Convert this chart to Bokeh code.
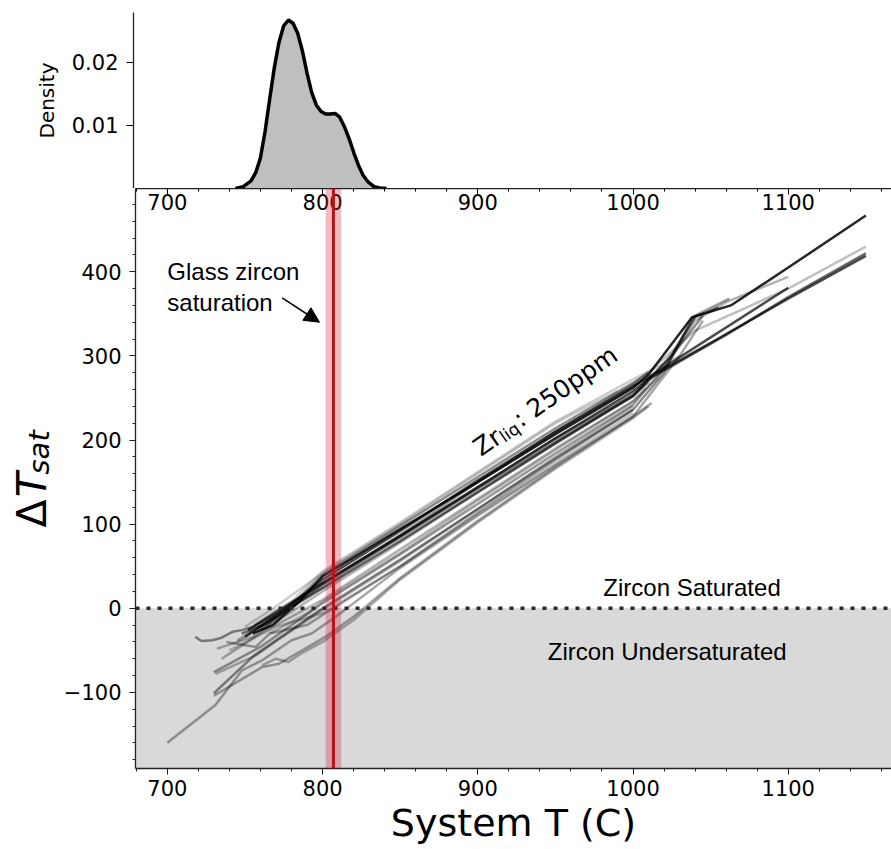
from bokeh.plotting import figure
from bokeh.layouts import column, row
from bokeh.models import (ColumnDataSource, Range1d, Span, BoxAnnotation, Label, Arrow,
                          NormalHead, SingleIntervalTicker, FixedTicker, LinearAxis)
from bokeh.embed import file_html
from bokeh.resources import INLINE

# ---------------- data ----------------
dens_T = [745, 750, 755, 758, 761, 764, 767, 770, 773, 776, 779, 782, 785, 788, 791, 794, 797,
          800, 803, 806, 809, 812, 815, 818, 821, 824, 827, 830, 834, 838, 842]
dens_val = [0.0000, 0.0003, 0.0012, 0.0025, 0.0048, 0.0090, 0.0142, 0.0192, 0.0232, 0.0258,
            0.0267, 0.0262, 0.0246, 0.0218, 0.0183, 0.0152, 0.0132, 0.0122, 0.0118, 0.0118,
            0.0119, 0.0113, 0.0098, 0.0079, 0.0057, 0.0037, 0.0021, 0.0011, 0.0003, 0.0001, 0.0000]

runs_T = [
    [755, 768, 785, 800, 850, 900, 950, 1000, 1010, 1038, 1063, 1100, 1150],
    [752, 772, 800, 850, 900, 950, 1000, 1012, 1060, 1100, 1150],
    [758, 780, 800, 850, 900, 950, 1000, 1010, 1060, 1100, 1150],
    [745, 770, 800, 850, 900, 950, 1000, 1012, 1040, 1100, 1150],
    [750, 772, 800, 850, 900, 950, 1000, 1012, 1050, 1100],
    [735, 760, 800, 850, 900, 950, 1000, 1015, 1040, 1060, 1100],
    [730, 756, 800, 850, 900, 950, 1000, 1020, 1038, 1055],
    [730, 760, 800, 850, 900, 950, 1000, 1022, 1040, 1062],
    [718, 722, 729, 735, 742, 748, 755, 770, 800, 850, 900, 950, 1000, 1025, 1045],
    [700, 731, 748, 761, 780, 793, 810, 850, 900, 950, 1000, 1030, 1045],
    [740, 770, 800, 850, 900, 950, 1000],
    [745, 775, 800, 850, 900, 950, 1000, 1005],
    [730, 761, 772, 801, 820, 850, 900, 950, 1000, 1012],
    [761, 770, 778, 786, 800, 820, 850, 900, 950, 1000, 1010],
    [732, 742, 755, 770, 800, 850, 900, 950, 1000, 1010],
    [760, 775, 800, 850, 900, 950, 1000, 1010],
    [750, 770, 800, 850, 900, 950, 990],
    [738, 757, 766, 790, 800, 850, 900, 950, 1000],
    [731, 745, 757, 771, 800, 850, 900, 950, 1000],
    [766, 790, 800, 850, 900, 950, 1000, 1008],
    [748, 765, 800, 850, 900, 950, 1000, 1010, 1025, 1040],
    [756, 780, 800, 850, 900, 950, 1000, 1030],
]
runs_dT = [
    [-30, -20, 8, 38, 94, 150, 207, 262, 278, 346, 360, 405, 467],
    [-26, -4, 30, 86, 144, 202, 258, 276, 326, 368, 419],
    [-24, 2, 24, 80, 138, 196, 252, 272, 325, 370, 422],
    [-38, -10, 28, 88, 150, 210, 266, 284, 330, 380, 430],
    [-34, -6, 34, 92, 152, 210, 264, 277, 322, 381],
    [-60, -30, 10, 70, 130, 190, 246, 272, 342, 364, 394],
    [-101, -56, 0, 58, 118, 178, 236, 280, 345, 358],
    [-76, -46, 6, 64, 124, 184, 242, 290, 348, 368],
    [-34, -39, -38, -35, -28, -26, -22, -4, 30, 86, 144, 202, 254, 300, 348],
    [-160, -115, -74, -62, -38, -30, -8, 48, 110, 170, 228, 300, 342],
    [-50, -22, -6, 50, 112, 172, 232],
    [-40, -6, 24, 86, 150, 210, 266, 272],
    [-104, -70, -66, -35, -10, 36, 104, 168, 228, 244],
    [-68, -60, -64, -54, -40, -14, 34, 102, 166, 226, 240],
    [-48, -42, -34, -16, 20, 78, 138, 196, 254, 268],
    [-26, -6, 40, 98, 156, 214, 268, 280],
    [-22, 2, 42, 100, 160, 220, 258],
    [-40, -46, -30, -20, -8, 50, 114, 176, 236],
    [-78, -66, -56, -38, -2, 56, 118, 180, 240],
    [-30, -6, 8, 66, 128, 188, 246, 262],
    [-30, -18, 28, 84, 142, 198, 252, 270, 302, 346],
    [-20, 8, 44, 102, 162, 222, 272, 300],
]
runs_alpha = [0.85, 0.7, 0.6, 0.25, 0.7, 0.3, 0.45, 0.4, 0.45, 0.35, 0.25,
              0.2, 0.35, 0.3, 0.3, 0.45, 0.2, 0.35, 0.3, 0.25, 0.5, 0.2]

glass_T = 807
glass_T_err = 5

TICK_FONT = "DejaVu Sans"
ANN_FONT = "Liberation Sans"
YLAB_W = 60

# ---------------- figures ----------------
xr = Range1d(679.5, 1166.5)
yr = Range1d(-190.5, 499)

top = figure(width=891, height=188, x_range=xr, y_range=Range1d(0, 0.0279),
             output_backend="svg", toolbar_location=None, x_axis_location=None,
             min_border_left=133, min_border_right=0, min_border_top=12, min_border_bottom=0)
top.outline_line_color = None
top.xgrid.visible = False
top.ygrid.visible = False
top.varea(x=dens_T, y1=[0] * len(dens_T), y2=dens_val, fill_color="#bfbfbf")
top.line(x=dens_T, y=dens_val, line_color="black", line_width=3.5)
top.yaxis.ticker = FixedTicker(ticks=[0.01, 0.02], minor_ticks=[])
top.yaxis.major_label_text_font = TICK_FONT
top.yaxis.major_label_text_font_size = "21px"
top.yaxis.major_label_text_color = "black"
top.yaxis.major_tick_out = 7
top.yaxis.major_tick_in = 0
top.yaxis.axis_line_color = "#222222"
top.yaxis.axis_line_width = 1.3
top.yaxis.major_label_standoff = 8
top.yaxis.axis_label = "Density"
top.yaxis.axis_label_text_font = TICK_FONT
top.yaxis.axis_label_text_font_style = "normal"
top.yaxis.axis_label_text_font_size = "20px"
top.yaxis.axis_label_text_color = "black"
top.yaxis.axis_label_standoff = 10

p = figure(width=891 - YLAB_W, height=661, x_range=xr, y_range=yr,
           output_backend="svg", toolbar_location=None,
           min_border_left=133 - YLAB_W, min_border_right=0, min_border_top=0,
           min_border_bottom=81)
p.outline_line_color = None
p.xgrid.visible = False
p.ygrid.visible = False

# undersaturated shading
p.add_layout(BoxAnnotation(top=0, fill_color="#d9d9d9", fill_alpha=1.0, line_color=None,
                           level="underlay"))

src = ColumnDataSource(dict(xs=runs_T, ys=runs_dT, a=runs_alpha))
p.multi_line(xs="xs", ys="ys", line_color="black", line_alpha="a", line_width=2.5, source=src)

# zero line
p.add_layout(Span(location=0, dimension="width", line_color="#2a2a2a", line_width=3.5,
                  line_dash="4 7"))
# glass saturation band + line
p.add_layout(BoxAnnotation(left=glass_T - glass_T_err, right=glass_T + glass_T_err,
                           fill_color="#cc2030", fill_alpha=0.3, line_color=None))
p.add_layout(Span(location=glass_T, dimension="height", line_color="#b5121b", line_width=3))

# axes
xt = SingleIntervalTicker(interval=100, num_minor_ticks=5)
p.xaxis.ticker = xt
p.yaxis.ticker = SingleIntervalTicker(interval=100, num_minor_ticks=5)
p.yaxis.major_label_overrides = {-100: "\u2212100"}
for ax in [p.xaxis[0], p.yaxis[0]]:
    ax.major_label_text_font = TICK_FONT
    ax.major_label_text_font_size = "21px"
    ax.major_label_text_color = "black"
    ax.major_tick_out = 6
    ax.major_tick_in = 0
    ax.minor_tick_out = 3
    ax.minor_tick_in = 0
    ax.axis_line_color = "#222222"
    ax.axis_line_width = 1.3
    ax.major_tick_line_color = "#222222"
    ax.minor_tick_line_color = "#222222"
p.yaxis.major_label_standoff = 8
p.xaxis.major_label_standoff = 5
p.xaxis.axis_label = "System T (C)"
p.xaxis.axis_label_text_font = TICK_FONT
p.xaxis.axis_label_text_font_style = "normal"
p.xaxis.axis_label_text_font_size = "38px"
p.xaxis.axis_label_text_color = "black"
p.xaxis.axis_label_standoff = 2

top_ax = LinearAxis(ticker=xt, major_tick_in=6, major_tick_out=0, minor_tick_in=3,
                    minor_tick_out=0, major_label_standoff=-21,
                    major_label_text_font=TICK_FONT, major_label_text_font_size="21px",
                    major_label_text_color="black", axis_line_color="#222222",
                    axis_line_width=1.3)
p.add_layout(top_ax, "above")

# Zr_liq label
p.add_layout(Label(x=899, y=188, text="Zr", angle=35, angle_units="deg", text_color="black",
                   text_font=TICK_FONT, text_font_size="25px", text_baseline="alphabetic"))
p.add_layout(Label(x=899, y=188, x_offset=25, y_offset=12, text="liq", angle=35,
                   angle_units="deg", text_font=TICK_FONT, text_font_size="17px",
                   text_color="black", text_baseline="alphabetic"))
p.add_layout(Label(x=899, y=188, x_offset=40, y_offset=29, text=": 250ppm", angle=35,
                   angle_units="deg", text_font=TICK_FONT, text_font_size="25px",
                   text_color="black", text_baseline="alphabetic"))

# annotations
p.add_layout(Label(x=700, y=400, text="Glass zircon", text_font=ANN_FONT, text_color="black",
                   text_font_size="24px", text_baseline="alphabetic"))
p.add_layout(Label(x=700, y=364, text="saturation", text_font=ANN_FONT, text_color="black",
                   text_font_size="24px", text_baseline="alphabetic"))
p.add_layout(Arrow(end=NormalHead(size=15, fill_color="black", line_color="black"),
                   x_start=774, y_start=369, x_end=798, y_end=340,
                   line_color="black", line_width=1.5))
p.add_layout(Label(x=1038, y=25, text="Zircon Saturated", text_font=ANN_FONT,
                   text_color="black", text_font_size="24px", text_align="center",
                   text_baseline="alphabetic"))
p.add_layout(Label(x=1022, y=-52, text="Zircon Undersaturated", text_font=ANN_FONT,
                   text_color="black", text_font_size="24px", text_align="center",
                   text_baseline="alphabetic"))

# y axis title panel (Delta T_sat); shares the main vertical scale
ylab = figure(width=YLAB_W, height=661, x_range=Range1d(0, YLAB_W), y_range=yr,
              output_backend="svg", toolbar_location=None, x_axis_location=None,
              y_axis_location=None, min_border=0)
ylab.outline_line_color = None
ylab.xgrid.visible = False
ylab.ygrid.visible = False
ylab.add_layout(Label(x=31, y=96, x_units="screen", text="\u0394", angle=90,
                      angle_units="deg", text_color="black", text_font=TICK_FONT,
                      text_font_size="41px", text_baseline="alphabetic"))
ylab.add_layout(Label(x=31, y=132, x_units="screen", text="T", angle=90, angle_units="deg",
                      text_color="black", text_font=TICK_FONT, text_font_style="italic",
                      text_font_size="41px", text_baseline="alphabetic"))
ylab.add_layout(Label(x=38, y=159, x_units="screen", text="sat", angle=90,
                      angle_units="deg", text_color="black", text_font=TICK_FONT,
                      text_font_style="italic", text_font_size="29px",
                      text_baseline="alphabetic"))

layout = column(top, row(ylab, p, spacing=0), spacing=0)
open("out.html", "w").write(file_html(layout, INLINE))
